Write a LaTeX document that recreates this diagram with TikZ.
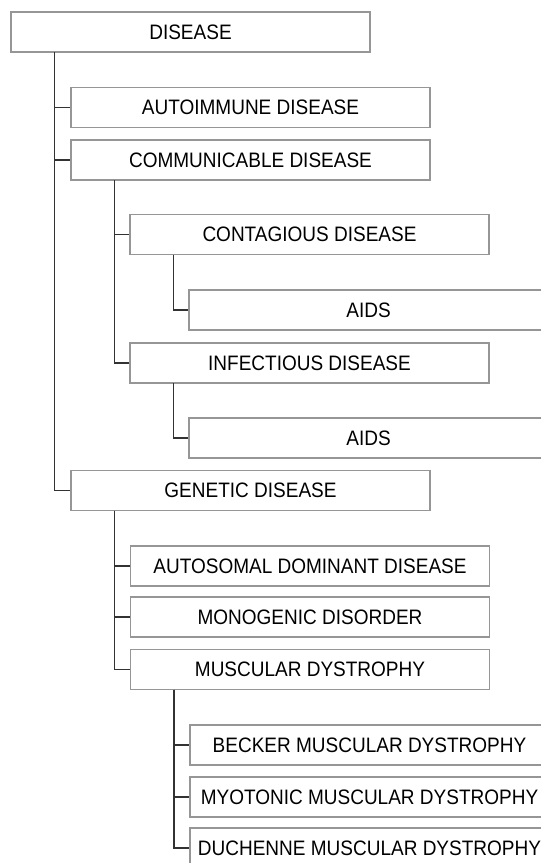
\documentclass[tikz,border=0pt]{standalone}
\usepackage{fontspec}
\setmainfont{Liberation Sans}
% slightly taller lettering for the box labels
\newcommand{\tallabel}[1]{\scalebox{1}[1.1]{#1}}
\begin{document}
\begin{tikzpicture}[x=1pt,y=-1pt,
  item/.style={draw=boxgray, line width=1.3pt, fill=white, minimum width=359pt,
    minimum height=40pt, inner sep=0pt, font=\fontsize{19}{22}\selectfont},
  link/.style={draw=linegray, line width=1.6pt}]
\definecolor{boxgray}{RGB}{150,150,150}
\definecolor{linegray}{RGB}{50,50,50}
\useasboundingbox (0,0) rectangle (541,863);
\clip (0,0) rectangle (541,863);
\fill[white] (0,0) rectangle (541,863);

\node[item] (disease)      at (190.5,32)  {\tallabel{DISEASE}};
\node[item] (autoimmune)   at (250.5,107.5) {\tallabel{AUTOIMMUNE DISEASE}};
\node[item] (communicable) at (250.5,160) {\tallabel{COMMUNICABLE DISEASE}};
\node[item] (contagious)   at (309.5,234.5) {\tallabel{CONTAGIOUS DISEASE}};
\node[item] (aidsa)        at (368.5,310) {\tallabel{AIDS}};
\node[item] (infectious)   at (309.5,363) {\tallabel{INFECTIOUS DISEASE}};
\node[item] (aidsb)        at (368.5,438) {\tallabel{AIDS}};
\node[item] (genetic)      at (250.5,490.5) {\tallabel{GENETIC DISEASE}};
\node[item] (autosomal)    at (310,566) {\tallabel{AUTOSOMAL DOMINANT DISEASE}};
\node[item] (monogenic)    at (310,617) {\tallabel{MONOGENIC DISORDER}};
\node[item] (muscular)     at (310,669.5) {\tallabel{MUSCULAR DYSTROPHY}};
\node[item] (becker)       at (369.5,745) {\tallabel{BECKER MUSCULAR DYSTROPHY}};
\node[item] (myotonic)     at (369.5,797) {\tallabel{MYOTONIC MUSCULAR DYSTROPHY}};
\node[item] (duchenne)     at (369.5,848) {\tallabel{DUCHENNE MUSCULAR DYSTROPHY}};

% tree connectors drop from 44pt inside each parent's lower-left corner
\foreach \p/\c in {disease/autoimmune, disease/communicable, disease/genetic,
                   communicable/contagious, communicable/infectious,
                   contagious/aidsa, infectious/aidsb,
                   genetic/autosomal, genetic/monogenic, genetic/muscular,
                   muscular/becker, muscular/myotonic, muscular/duchenne}
  \draw[link] ([xshift=44pt,yshift=0.65pt]\p.south west) |- (\c.west);
\end{tikzpicture}
\end{document}
